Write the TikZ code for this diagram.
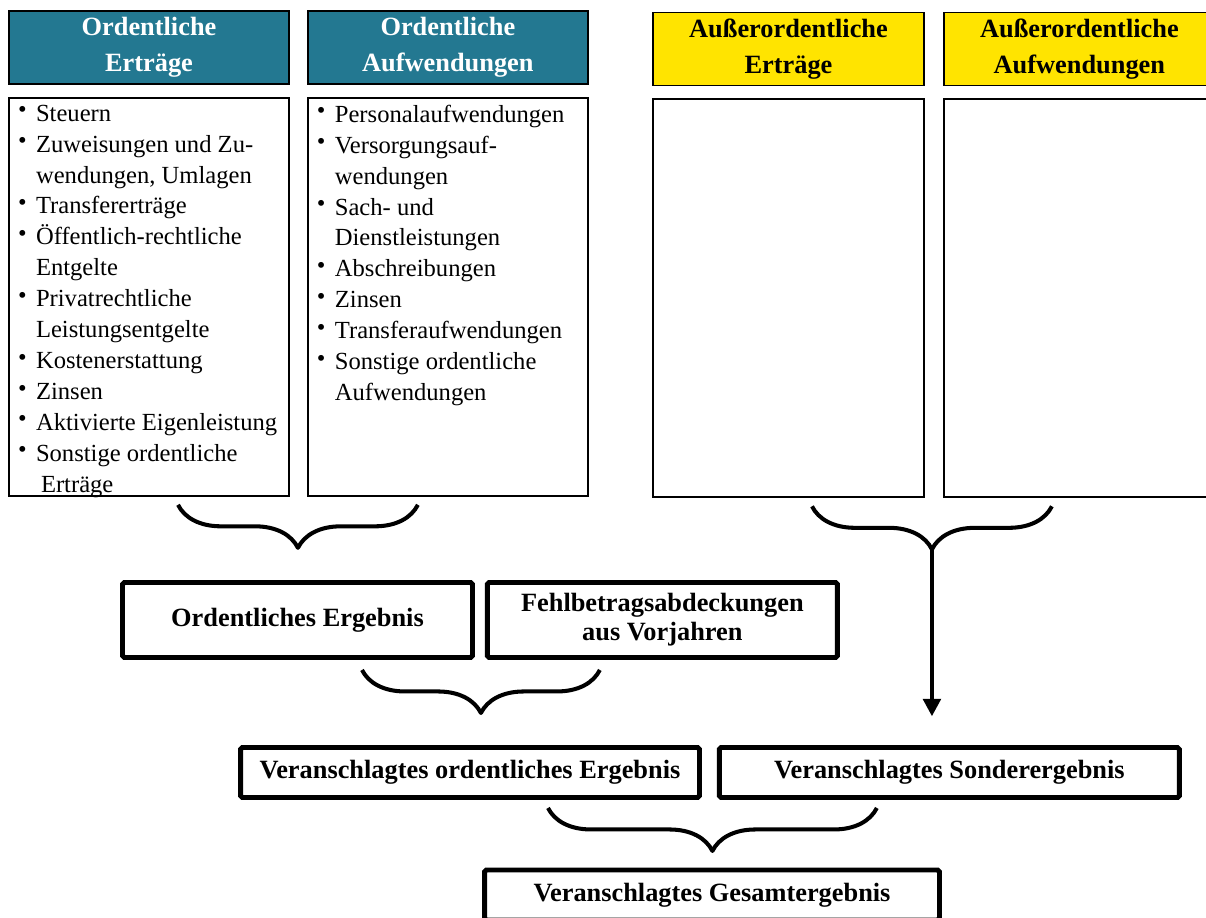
\documentclass[tikz,border=0pt]{standalone}
\usepackage{fontspec}
\setmainfont{Liberation Serif}
\usepackage{xcolor}
\usetikzlibrary{positioning,arrows.meta,calc,decorations.pathreplacing}
\definecolor{petrol}{RGB}{35,120,145}
\definecolor{gelb}{RGB}{255,228,0}
\newcommand{\pkt}{\makebox[0.36cm][l]{\raisebox{2pt}{\textbullet}}}
\newcommand{\weiter}{\hspace*{0.36cm}}
\tikzset{%
kopf/.style={draw,line width=1.1pt,minimum width=5.6cm,minimum height=1.46cm,inner sep=0pt,align=center,font=\fontsize{15}{20.5}\selectfont\bfseries},
liste/.style={draw,line width=1.1pt,minimum width=5.6cm,minimum height=7.96cm,inner sep=0.14cm,font=\fontsize{14}{17.6}\selectfont},
ergebnis/.style={draw,line width=2.8pt,rounded corners=1pt,minimum height=1.5cm,inner sep=0pt,align=center,font=\fontsize{15}{16.5}\selectfont\bfseries},
klammer/.style={decorate,decoration={brace,mirror,amplitude=0.86cm},line width=2.3pt,line join=round},
pfeil/.style={-{Triangle[length=10pt,width=10pt]},line width=2.3pt}
}

\begin{document}
\begin{tikzpicture}[x=0.02cm,y=-0.02cm]
    \useasboundingbox (0,0) rectangle (1206,917);

    \node[kopf,fill=petrol,text=white] (ertr) at (149,47.5) {Ordentliche\\Erträge};
    \node[kopf,fill=petrol,text=white,right=0.34cm of ertr] (aufw) {Ordentliche\\Aufwendungen};
    \node[kopf,fill=gelb,minimum width=5.42cm] (aoertr) at (788.5,49) {Außerordentliche\\Erträge};
    \node[kopf,fill=gelb,minimum width=5.42cm,right=0.36cm of aoertr] (aoaufw) {Außerordentliche\\Aufwendungen};

    \node[liste,below=0.24cm of ertr] (ertrliste) {\parbox[c][7.68cm][t]{5.24cm}{%
        \pkt Steuern\\
        \pkt Zuweisungen und Zu-\\
        \weiter wendungen, Umlagen\\
        \pkt Transfererträge\\
        \pkt Öffentlich-rechtliche\\
        \weiter Entgelte\\
        \pkt Privatrechtliche\\
        \weiter Leistungsentgelte\\
        \pkt Kostenerstattung\\
        \pkt Zinsen\\
        \pkt Aktivierte Eigenleistung\\
        \pkt Sonstige ordentliche\\
        \weiter\hspace*{0.1cm}Erträge}};
    \node[liste,below=0.24cm of aufw] (aufwliste) {\parbox[c][7.68cm][t]{5.24cm}{%
        \pkt Personalaufwendungen\\
        \pkt Versorgungsauf-\\
        \weiter wendungen\\
        \pkt Sach- und\\
        \weiter Dienstleistungen\\
        \pkt Abschreibungen\\
        \pkt Zinsen\\
        \pkt Transferaufwendungen\\
        \pkt Sonstige ordentliche\\
        \weiter Aufwendungen}};
    \node[liste,minimum width=5.42cm,below=0.24cm of aoertr] (aoertrliste) {};
    \node[liste,minimum width=5.42cm,below=0.24cm of aoaufw] (aoaufwliste) {};

    \node[ergebnis,minimum width=7cm] (oe) at (297.5,620) {Ordentliches Ergebnis};
    \node[ergebnis,minimum width=7cm,right=0.2cm of oe] (fehl) {Fehlbetragsabdeckungen\\aus Vorjahren};
    \node[ergebnis,minimum width=9.18cm,minimum height=1cm] (voe) at (470,772.5) {Veranschlagtes ordentliches Ergebnis};
    \node[ergebnis,minimum width=9.2cm,minimum height=1cm,right=0.3cm of voe] (vs) {Veranschlagtes Sonderergebnis};
    \node[ergebnis,minimum width=9.1cm,minimum height=1cm] (vg) at (712,895) {Veranschlagtes Gesamtergebnis};

    \draw[klammer] ($(ertrliste.south)+(29,8)$) -- ($(aufwliste.south)+(-30,8)$);

    \coordinate (k2l) at ($(aoertrliste.south)+(23.5,8)$);
    \coordinate (k2r) at ($(aoaufwliste.south)+(-27.5,8)$);
    \coordinate (k2spitze) at ($(k2l)!0.5!(k2r)+(0,42)$);
    \coordinate (pfeilende) at ($(k2spitze)+(0,168)$);
    \draw[klammer] (k2l) -- (k2r);
    \draw[pfeil] (k2spitze) -- (pfeilende);

    \draw[klammer] ($(oe.south)+(64.5,10)$) -- ($(fehl.south)+(-62.5,10)$);
    \draw[klammer] ($(voe.south)+(78,8)$) -- ($(vs.south)+(-72.5,8)$);

\end{tikzpicture}
\end{document}
